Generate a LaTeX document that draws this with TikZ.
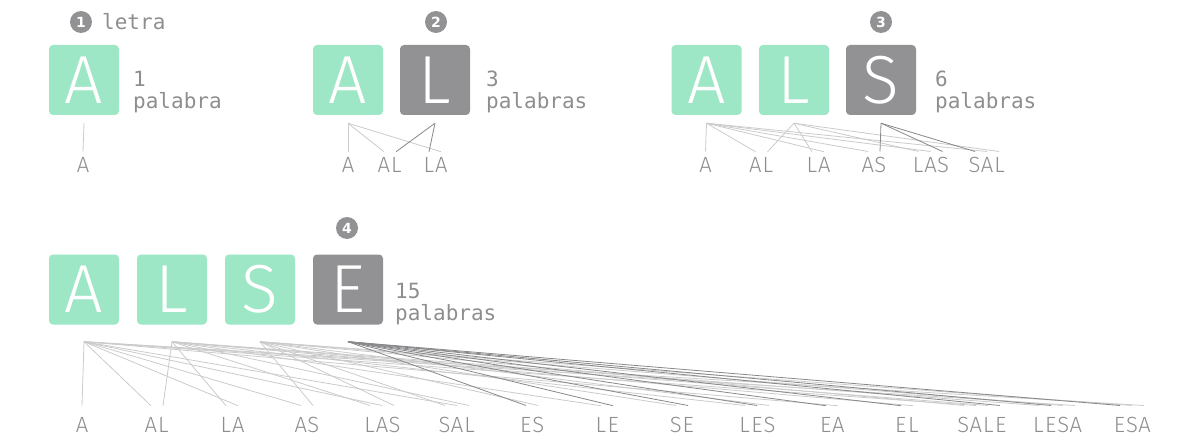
\documentclass[tikz,border=0pt]{standalone}
\usepackage{fontspec}
\setmainfont{Fira Sans Light}
\newfontfamily\tilefont{Fira Sans Light}
\newfontfamily\monofont{DejaVu Sans Mono}
\newfontfamily\badgefont{DejaVu Sans}
\usetikzlibrary{positioning}
\definecolor{mgreen}{HTML}{9DE6C6}
\definecolor{mgray}{HTML}{929295}
\definecolor{tgray}{HTML}{8E8E90}
\definecolor{lgray}{HTML}{CBCBCB}
\definecolor{dgray}{HTML}{88888B}
\newcommand\spaced[1]{\spacedi#1\relax}
\def\spacedi#1{\ifx#1\relax\else\makebox[12.5pt]{#1}\expandafter\spacedi\fi}
\tikzset{tile/.style = {rounded corners=4pt, minimum size=70pt, inner sep=0,
                        text=white, font=\tilefont\fontsize{68}{68}\selectfont}}
\tikzset{oldtile/.style = {tile, fill=mgreen}}
\tikzset{freshtile/.style = {tile, fill=mgray}}
\tikzset{badge/.style = {circle, fill=mgray, minimum size=22pt, inner sep=0,
                         text=white, font=\badgefont\bfseries\fontsize{14}{14}\selectfont}}
\tikzset{total/.style = {anchor=base west, align=left, inner sep=0, text=tgray,
                         font=\monofont\fontsize{21}{22}\selectfont}}
\tikzset{word/.style = {anchor=base, inner sep=0, text=tgray,
                        font=\fontsize{22}{22}\selectfont}}
\tikzset{link/.style = {draw=lgray, line width=0.8pt}}
\tikzset{freshlink/.style = {draw=dgray, line width=0.8pt}}

\begin{document}
\begin{tikzpicture}[x=1pt, y=-1pt]
  \useasboundingbox (0,0) rectangle (1201,441);

  \node[badge] (b1) at (81,22) {1};
  \node[total] (letra) at (102,30) {letra};
  \node[oldtile] (tA1) at (84,80) {A};
  \node[total] (n1) at (133,109) {1\\palabra};
  \node[word] (wA1) at (83,172) {\spaced{A}};
  \coordinate (oA1) at ([yshift=-8pt]tA1.south);
  \draw[link] (oA1) -- ([yshift=5pt]wA1.north);

  \node[badge] (b2) at (436,22) {2};
  \node[oldtile] (tA2) at (348,80) {A};
  \node[freshtile] (tL2) at (435,80) {L};
  \node[total] (n2) at (486,109) {3\\palabras};
  \node[word] (wA2) at (348,172) {\spaced{A}};
  \node[word] (wAL2) at (390,172) {\spaced{AL}};
  \node[word] (wLA2) at (435,172) {\spaced{LA}};
  \coordinate (oA2) at ([yshift=-8pt]tA2.south);
  \coordinate (oL2) at ([yshift=-8pt]tL2.south);
  \foreach \w/\o in {A/0, AL/-6, LA/6}
    \draw[link] (oA2) -- ([xshift=\o pt, yshift=5pt]w\w2.north);
  \foreach \w/\o in {AL/6, LA/-6}
    \draw[freshlink] (oL2) -- ([xshift=\o pt, yshift=5pt]w\w2.north);

  \node[badge] (b3) at (881,22) {3};
  \node[oldtile] (tA3) at (706.5,80) {A};
  \node[oldtile] (tL3) at (794,80) {L};
  \node[freshtile] (tS3) at (881,80) {S};
  \node[total] (n3) at (935,109) {6\\palabras};
  \node[word] (wA3) at (705.5,172) {\spaced{A}};
  \node[word] (wAL3) at (761.5,172) {\spaced{AL}};
  \node[word] (wLA3) at (818,172) {\spaced{LA}};
  \node[word] (wAS3) at (874,172) {\spaced{AS}};
  \node[word] (wLAS3) at (930.5,172) {\spaced{LAS}};
  \node[word] (wSAL3) at (987,172) {\spaced{SAL}};
  \coordinate (oA3) at ([yshift=-8pt]tA3.south);
  \coordinate (oL3) at ([yshift=-8pt]tL3.south);
  \coordinate (oS3) at ([yshift=-8pt]tS3.south);
  \foreach \w/\o in {A/0, AL/-6, LA/6, AS/-6, LAS/0, SAL/0}
    \draw[link] (oA3) -- ([xshift=\o pt, yshift=5pt]w\w3.north);
  \foreach \w/\o in {AL/6, LA/-6, LAS/-12, SAL/12}
    \draw[link] (oL3) -- ([xshift=\o pt, yshift=5pt]w\w3.north);
  \foreach \w/\o in {AS/6, LAS/12, SAL/-12}
    \draw[freshlink] (oS3) -- ([xshift=\o pt, yshift=5pt]w\w3.north);

  \node[badge] (b4) at (347,228) {4};
  \node[oldtile] (tA4) at (84,289.5) {A};
  \node[oldtile] (tL4) at (172,289.5) {L};
  \node[oldtile] (tS4) at (260,289.5) {S};
  \node[freshtile] (tE4) at (348,289.5) {E};
  \node[total] (n4) at (395,320) {15\\palabras};
  \node[word] (wA4) at (82,432) {\spaced{A}};
  \node[word] (wAL4) at (157,432) {\spaced{AL}};
  \node[word] (wLA4) at (232,432) {\spaced{LA}};
  \node[word] (wAS4) at (307,432) {\spaced{AS}};
  \node[word] (wLAS4) at (382,432) {\spaced{LAS}};
  \node[word] (wSAL4) at (457,432) {\spaced{SAL}};
  \node[word] (wES4) at (532,432) {\spaced{ES}};
  \node[word] (wLE4) at (607,432) {\spaced{LE}};
  \node[word] (wSE4) at (682,432) {\spaced{SE}};
  \node[word] (wLES4) at (757,432) {\spaced{LES}};
  \node[word] (wEA4) at (832,432) {\spaced{EA}};
  \node[word] (wEL4) at (907,432) {\spaced{EL}};
  \node[word] (wSALE4) at (982,432) {\spaced{SALE}};
  \node[word] (wLESA4) at (1057,432) {\spaced{LESA}};
  \node[word] (wESA4) at (1132,432) {\spaced{ESA}};
  \coordinate (oA4) at ([yshift=-17pt]tA4.south);
  \coordinate (oL4) at ([yshift=-17pt]tL4.south);
  \coordinate (oS4) at ([yshift=-17pt]tS4.south);
  \coordinate (oE4) at ([yshift=-17pt]tE4.south);
  \foreach \w/\o in {A/0, AL/-6, LA/6, AS/-6, LAS/0, SAL/0, EA/6, SALE/-6, LESA/18, ESA/12}
    \draw[link] (oA4) -- ([xshift=\o pt, yshift=11pt]w\w4.north);
  \foreach \w/\o in {AL/6, LA/-6, LAS/-12, SAL/12, LE/-6, LES/-12, EL/6, SALE/6, LESA/-18}
    \draw[link] (oL4) -- ([xshift=\o pt, yshift=11pt]w\w4.north);
  \foreach \w/\o in {AS/6, LAS/12, SAL/-12, ES/6, SE/-6, LES/12, SALE/-18, LESA/6, ESA/0}
    \draw[link] (oS4) -- ([xshift=\o pt, yshift=11pt]w\w4.north);
  \foreach \w/\o in {ES/-6, LE/6, SE/6, LES/0, EA/-6, EL/-6, SALE/18, LESA/-6, ESA/-12}
    \draw[freshlink] (oE4) -- ([xshift=\o pt, yshift=11pt]w\w4.north);
\end{tikzpicture}
\end{document}
